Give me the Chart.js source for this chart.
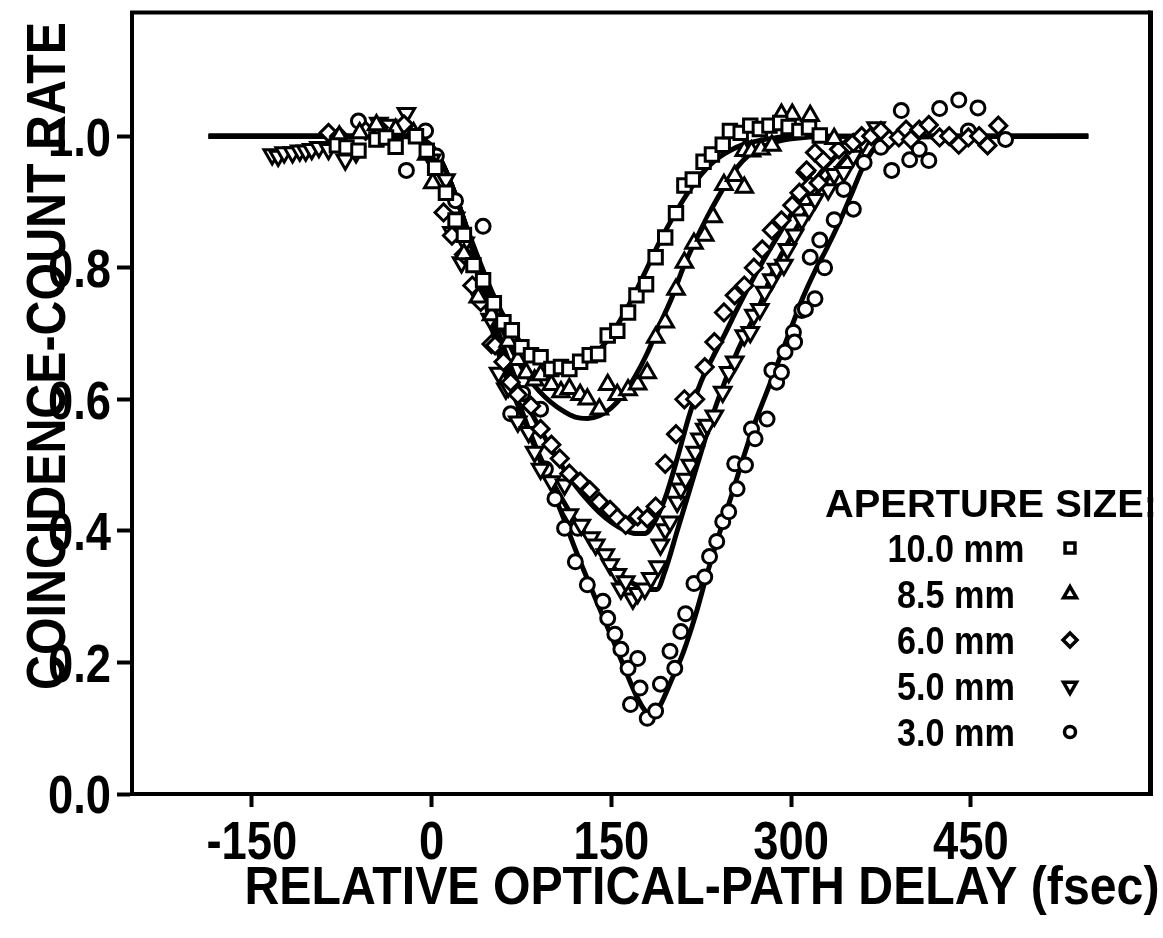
<!DOCTYPE html>
<html>
<head>
<meta charset="utf-8">
<script src="https://cdn.jsdelivr.net/npm/chart.js@4/dist/chart.umd.min.js"></script>
<style>
  html, body { margin: 0; padding: 0; background: #fff; }
  canvas { display: block; }
</style>
</head>
<body>
<canvas id="dip" width="1163" height="938"></canvas>
<script>
// measured coincidence rates, one pair of arrays per aperture
const x10 = [-79,-71,-61,-46,-38,-30,-13,-4,3,12,20,27,35,43,52,60,67,75,83,91,100,108,115,124,132,139,147,155,164,171,179,187,195,204,211,218,227,234,243,249,258,266,274,282,291,298,307,315,324];
const y10 = [0.986,0.983,0.978,0.995,0.998,0.984,1.0,0.978,0.952,0.914,0.872,0.85,0.804,0.781,0.746,0.717,0.705,0.679,0.667,0.664,0.646,0.649,0.646,0.657,0.667,0.669,0.697,0.704,0.732,0.758,0.775,0.816,0.846,0.883,0.925,0.934,0.961,0.972,0.987,1.008,1.005,1.016,1.011,1.016,1.02,1.014,1.008,1.013,1.001];

const x85 = [-77,-60,-46,-30,-15,-4,1,27,39,50,64,72,79,86,91,100,108,115,124,130,140,147,155,164,172,180,187,195,204,211,219,228,235,244,253,261,261,267,275,284,292,301,316,336];
const y85 = [1.0,1.005,1.017,1.01,1.005,0.972,0.929,0.821,0.755,0.728,0.688,0.66,0.64,0.629,0.637,0.622,0.611,0.616,0.607,0.6,0.585,0.622,0.607,0.614,0.623,0.64,0.694,0.717,0.767,0.808,0.837,0.849,0.877,0.926,0.94,0.922,0.978,0.977,0.98,0.986,1.033,1.033,1.031,0.996];

const x60 = [-86,-77,-55,-44,-23,10,17,27,34,41,50,53,60,66,72,83,91,100,107,115,124,132,140,149,155,162,172,180,187,195,204,211,220,228,236,244,253,261,269,276,284,292,301,307,312,313,316,320,323,327,340,349,352,359,367,375,382,390,396,400,407,415,424,432,440,448,457,464,473];
const y60 = [1.005,1.0,1.008,1.013,1.018,0.884,0.849,0.82,0.773,0.748,0.684,0.682,0.657,0.626,0.607,0.59,0.555,0.531,0.51,0.487,0.475,0.462,0.444,0.432,0.42,0.409,0.422,0.419,0.437,0.502,0.547,0.6,0.6,0.649,0.687,0.732,0.758,0.773,0.8,0.828,0.857,0.872,0.895,0.914,0.945,0.948,0.925,0.975,0.929,0.963,0.98,0.987,0.99,1.0,1.0,1.008,0.995,0.998,1.01,0.995,1.01,1.017,0.998,1.0,0.987,0.998,1.0,0.986,1.016];

const x50 = [-133,-128,-123,-116,-110,-105,-100,-94,-86,-72,-63,-44,-37,-21,0,12,17,20,25,28,41,49,56,62,64,72,81,86,91,100,111,115,125,133,137,145,149,155,158,162,168,172,178,183,189,191,195,199,205,208,212,216,220,224,228,230,236,243,248,253,261,266,269,274,278,284,288,294,297,303,309,315,320,331,336,344,352,360,371];
const y50 = [0.972,0.97,0.975,0.975,0.978,0.978,0.98,0.983,0.98,0.964,0.975,1.02,1.017,1.035,0.964,0.934,0.854,0.876,0.808,0.838,0.751,0.722,0.64,0.616,0.619,0.566,0.55,0.52,0.494,0.475,0.47,0.425,0.409,0.39,0.379,0.364,0.349,0.334,0.312,0.323,0.297,0.305,0.312,0.328,0.346,0.379,0.402,0.414,0.444,0.464,0.479,0.5,0.52,0.54,0.555,0.561,0.575,0.611,0.641,0.657,0.697,0.702,0.728,0.737,0.763,0.782,0.798,0.804,0.828,0.85,0.873,0.889,0.904,0.919,0.942,0.945,0.97,0.99,1.013];

const x30 = [-61,-21,-5,4,20,43,66,76,91,95,103,111,120,122,130,143,147,153,158,164,166,172,174,180,187,191,199,203,208,212,219,228,232,238,243,248,253,255,262,267,270,280,284,288,292,295,302,303,309,312,316,320,324,328,336,344,352,361,375,384,392,399,407,415,424,440,448,456,479];
const y30 = [1.023,0.948,1.008,0.97,0.902,0.863,0.578,0.609,0.585,0.494,0.449,0.404,0.353,0.404,0.318,0.293,0.267,0.243,0.22,0.191,0.136,0.206,0.161,0.115,0.126,0.167,0.217,0.191,0.247,0.274,0.32,0.33,0.361,0.384,0.414,0.429,0.502,0.464,0.5,0.555,0.54,0.57,0.644,0.626,0.641,0.672,0.702,0.687,0.735,0.737,0.816,0.753,0.842,0.8,0.873,0.919,0.889,0.96,0.983,0.948,1.039,0.964,0.98,0.963,1.042,1.055,1.008,1.043,0.995];

// theoretical curves
const fitX10 = [-186,-20,0,10,20,30,40,50,60,70,80,90,100,110,120,130,140,150,160,170,180,190,200,210,220,230,240,250,260,275,300,548];
const fitY10 = [1,1,0.985,0.955,0.91,0.858,0.81,0.765,0.727,0.697,0.674,0.658,0.648,0.645,0.648,0.658,0.675,0.698,0.728,0.762,0.8,0.838,0.872,0.903,0.93,0.952,0.968,0.979,0.987,0.994,1,1];

const fitX85 = [-186,-20,0,10,20,30,40,50,60,70,80,90,100,110,120,130,140,150,160,170,180,190,200,210,220,230,240,250,260,270,285,300,330,548];
const fitY85 = [1,1,0.985,0.955,0.91,0.855,0.8,0.75,0.703,0.665,0.635,0.612,0.595,0.582,0.573,0.571,0.575,0.587,0.607,0.635,0.67,0.712,0.752,0.8,0.84,0.877,0.91,0.94,0.963,0.978,0.99,0.996,1,1];

const fitX60 = [-186,-20,0,10,20,30,40,50,60,70,80,90,100,110,120,130,140,150,160,170,178,185,195,205,215,225,235,245,255,265,275,285,295,305,315,325,335,345,360,548];
const fitY60 = [1,1,0.985,0.955,0.91,0.855,0.795,0.735,0.68,0.632,0.592,0.557,0.525,0.495,0.469,0.447,0.428,0.413,0.402,0.396,0.396,0.41,0.45,0.51,0.575,0.627,0.665,0.7,0.737,0.772,0.805,0.836,0.866,0.895,0.92,0.945,0.965,0.982,0.998,1];

const fitX50 = [-186,-20,0,10,20,30,40,50,60,70,80,90,100,110,120,130,140,150,160,170,180,188,195,205,215,225,235,245,255,265,275,285,295,305,315,325,335,345,355,370,548];
const fitY50 = [1,1,0.985,0.955,0.91,0.855,0.79,0.725,0.665,0.61,0.56,0.515,0.478,0.445,0.415,0.39,0.368,0.348,0.33,0.318,0.311,0.311,0.34,0.4,0.46,0.52,0.578,0.628,0.672,0.71,0.748,0.795,0.83,0.862,0.893,0.922,0.945,0.967,0.985,1,1];

const fitX30 = [-186,-20,0,10,20,30,40,50,60,70,80,90,100,110,120,130,140,150,160,170,178,184,190,200,210,220,230,240,250,260,270,280,290,300,310,320,330,340,350,360,370,380,395,548];
const fitY30 = [1,1,0.985,0.955,0.91,0.855,0.785,0.71,0.645,0.6,0.555,0.51,0.465,0.42,0.372,0.327,0.283,0.24,0.196,0.153,0.127,0.12,0.132,0.172,0.215,0.27,0.335,0.395,0.452,0.51,0.565,0.612,0.66,0.708,0.755,0.795,0.83,0.868,0.91,0.953,0.983,0.998,1,1];

const xTicks = [-150, 0, 150, 300, 450];
const yTicks = [0, 0.2, 0.4, 0.6, 0.8, 1.0];
const apertures = ['10.0 mm', '8.5 mm', '6.0 mm', '5.0 mm', '3.0 mm'];

const FONT = '"Liberation Sans", Arial, Helvetica, sans-serif';

const pts = (xs, ys) => xs.map((x, i) => ({ x, y: ys[i] }));

const markers = [
  { style: 'rect', radius: 9.5, rotation: 0, legend: 7 },
  { style: 'triangle', radius: 9.5, rotation: 0, legend: 7.5 },
  { style: 'rectRot', radius: 8.5, rotation: 0, legend: 7 },
  { style: 'triangle', radius: 9.5, rotation: 180, legend: 7.5 },
  { style: 'circle', radius: 7, rotation: 0, legend: 5.5 }
];
const series = [[x10, y10], [x85, y85], [x60, y60], [x50, y50], [x30, y30]];
const fits = [[fitX10, fitY10], [fitX85, fitY85], [fitX60, fitY60], [fitX50, fitY50], [fitX30, fitY30]];

const datasets = [];
series.forEach(([xs, ys], i) => {
  const m = markers[i];
  datasets.push({
    label: apertures[i],
    data: pts(xs, ys),
    showLine: false,
    pointStyle: m.style,
    pointRadius: m.radius,
    pointRotation: m.rotation,
    pointBackgroundColor: '#fff',
    pointBorderColor: '#000',
    pointBorderWidth: 3,
    order: i + 1
  });
});
fits.forEach(([xs, ys], i) => {
  datasets.push({
    label: 'fit ' + apertures[i],
    data: pts(xs, ys),
    showLine: true,
    pointRadius: 0,
    borderColor: '#000',
    borderWidth: 5,
    cubicInterpolationMode: 'monotone',
    fill: false,
    order: 20
  });
});

// draws text squeezed horizontally, centred vertically on cy
function label(ctx, str, x, cy, size, align, sx) {
  ctx.save();
  ctx.font = 'bold ' + size + 'px ' + FONT;
  ctx.translate(x, cy + size * 0.36);
  ctx.scale(sx, 1);
  ctx.textAlign = align;
  ctx.textBaseline = 'alphabetic';
  ctx.fillStyle = '#000';
  ctx.fillText(str, 0, 0);
  ctx.restore();
}

function fitScale(ctx, str, size, width) {
  ctx.save();
  ctx.font = 'bold ' + size + 'px ' + FONT;
  const w = ctx.measureText(str).width;
  ctx.restore();
  return width / w;
}

const annotations = {
  id: 'annotations',
  afterDatasetsDraw(chart) {
    const ctx = chart.ctx;
    const xs = chart.scales.x, ys = chart.scales.y;

    yTicks.forEach(v => label(ctx, v.toFixed(1), 111, ys.getPixelForValue(v), 54, 'right', 0.84));
    xTicks.forEach(v => label(ctx, String(v), xs.getPixelForValue(v), 840, 54, 'center', 0.84));

    const xt = 'RELATIVE OPTICAL-PATH DELAY (fsec)';
    label(ctx, xt, 702, 885, 54, 'center', fitScale(ctx, xt, 54, 915));

    const yt = 'COINCIDENCE-COUNT RATE';
    ctx.save();
    ctx.translate(45, 356);
    ctx.rotate(-Math.PI / 2);
    label(ctx, yt, 0, 0, 56, 'center', fitScale(ctx, yt, 56, 668));
    ctx.restore();

    // legend block
    const lt = 'APERTURE SIZE:';
    label(ctx, lt, 825, 503, 38, 'left', fitScale(ctx, lt, 38, 332));
    const rowY = [548, 594, 640, 686, 732];
    apertures.forEach((t, i) => {
      label(ctx, t, 956, rowY[i], 38, 'center', 0.9);
      ctx.save();
      ctx.fillStyle = '#fff';
      ctx.strokeStyle = '#000';
      ctx.lineWidth = 3.5;
      Chart.helpers.drawPoint(ctx, {
        pointStyle: markers[i].style,
        radius: markers[i].legend,
        rotation: markers[i].rotation,
        borderWidth: 3.5
      }, 1070, rowY[i]);
      ctx.restore();
    });
  },
  afterDraw(chart) {
    const ctx = chart.ctx;
    const a = chart.chartArea;
    ctx.save();
    ctx.strokeStyle = '#000';
    ctx.lineWidth = 4;
    ctx.beginPath();
    ctx.moveTo(a.left - 2, a.top);
    ctx.lineTo(a.right, a.top);
    ctx.stroke();
    ctx.lineWidth = 5;
    ctx.beginPath();
    ctx.moveTo(a.right, a.top - 2);
    ctx.lineTo(a.right, a.bottom + 2);
    ctx.stroke();
    ctx.restore();
  }
};

new Chart(document.getElementById('dip'), {
  type: 'scatter',
  data: { datasets },
  options: {
    responsive: false,
    animation: false,
    layout: { padding: { top: 9, right: 7, left: 0, bottom: 0 } },
    plugins: { legend: { display: false }, tooltip: { enabled: false } },
    scales: {
      x: {
        type: 'linear',
        min: -250,
        max: 600,
        afterBuildTicks: s => { s.ticks = xTicks.map(v => ({ value: v })); },
        afterFit: s => { s.height = 144; },
        ticks: { display: false },
        grid: { drawOnChartArea: false, tickLength: 13, tickWidth: 4, tickColor: '#000' },
        border: { color: '#000', width: 4 }
      },
      y: {
        type: 'linear',
        min: 0,
        max: 1.188,
        afterBuildTicks: s => { s.ticks = yTicks.map(v => ({ value: v })); },
        afterFit: s => { s.width = 132; },
        ticks: { display: false },
        grid: { drawOnChartArea: false, tickLength: 15, tickWidth: 4, tickColor: '#000' },
        border: { color: '#000', width: 4 }
      }
    }
  },
  plugins: [annotations]
});
</script>
</body>
</html>
